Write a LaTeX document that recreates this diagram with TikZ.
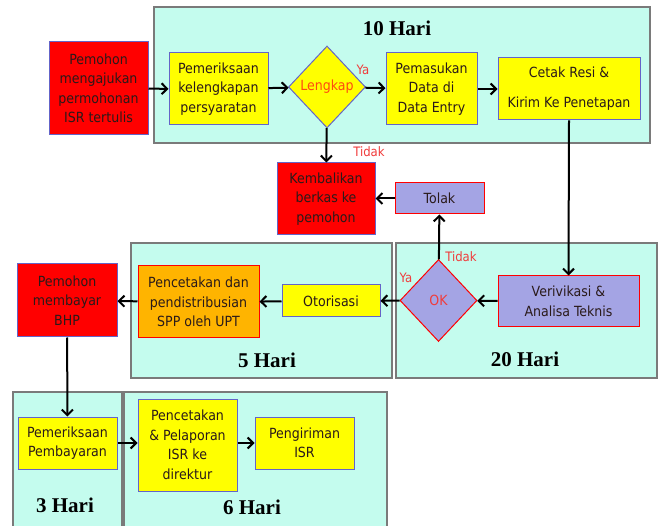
\documentclass[tikz,border=0pt]{standalone}
\usepackage{fontspec}
\setmainfont{DejaVu Sans Condensed}
\newfontfamily\harifont{Liberation Serif}
\usetikzlibrary{shapes.geometric,arrows.meta}
\definecolor{panelcyan}{HTML}{C4FCEE}
\definecolor{panelgray}{HTML}{7A7A7A}
\definecolor{boxyellow}{HTML}{FFFF00}
\definecolor{boxred}{HTML}{FF0000}
\definecolor{boxlilac}{HTML}{A4A4E4}
\definecolor{boxorange}{HTML}{FFB400}
\definecolor{boxblue}{HTML}{6464C8}
\definecolor{boxtext}{HTML}{2A1A1A}
\definecolor{labred}{HTML}{F03C3C}
\definecolor{lengkaptext}{HTML}{FF4A10}

\begin{document}
\begin{tikzpicture}[x=1pt,y=-1pt,
    box/.style={draw=boxblue,line width=1pt,inner sep=0pt,align=center,text=boxtext,
      font=\fontsize{14}{19.5}\selectfont},
    yellowbox/.style={box,fill=boxyellow},
    redbox/.style={box,fill=boxred},
    lilacbox/.style={box,fill=boxlilac,draw=boxred},
    orangebox/.style={box,fill=boxorange,draw=boxred},
    choice/.style={diamond,draw,line width=1pt,inner sep=0pt,minimum width=77pt,
      minimum height=82pt,font=\fontsize{14}{16}\selectfont},
    panel/.style={fill=panelcyan,draw=panelgray,line width=1.2pt},
    hari/.style={font=\harifont\bfseries\fontsize{21}{24}\selectfont},
    lab/.style={text=labred,font=\fontsize{13}{15}\selectfont,inner sep=0pt},
    arr/.style={-{Straight Barb[length=5.5pt,width=11pt,line width=2pt]},line width=2pt}]
    \useasboundingbox (0,0) rectangle (661,526);

    \draw[panel] (154,7) rectangle (650,143);
    \draw[panel] (131,243) rectangle (392,378);
    \draw[panel] (396,243) rectangle (657,378);
    \fill[panelcyan] (13,392) rectangle (122,526);
    \draw[panelgray,line width=1.2pt] (13,526) -- (13,392) -- (122,392) -- (122,526);
    \fill[panelcyan] (124,392) rectangle (387,526);
    \draw[panelgray,line width=1.2pt] (124,526) -- (124,392) -- (387,392) -- (387,526);

    \node[hari] (h10) at (397,28) {10 Hari};
    \node[hari] (h5) at (267,360) {5 Hari};
    \node[hari] (h20) at (525,359) {20 Hari};
    \node[hari] (h3) at (65,505) {3 Hari};
    \node[hari] (h6) at (252,507) {6 Hari};

    \node[redbox,minimum width=99pt,minimum height=93pt] (mohon) at (98.5,88.5)
      {Pemohon\\mengajukan\\permohonan\\ISR tertulis};
    \node[yellowbox,minimum width=99pt,minimum height=72pt] (periksa) at (218.5,89)
      {Pemeriksaan\\kelengkapan\\persyaratan};
    \node[choice,fill=boxyellow,draw=boxblue,text=lengkaptext] (lengkap) at (327,87) {Lengkap};
    \node[yellowbox,minimum width=91pt,minimum height=72pt] (masuk) at (431.5,89)
      {Pemasukan\\Data di\\Data Entry};
    \node[yellowbox,minimum width=142pt,minimum height=62pt,
      font=\fontsize{14}{30}\selectfont] (cetak) at (569,89)
      {Cetak Resi \&\\Kirim Ke Penetapan};
    \node[redbox,minimum width=98pt,minimum height=72pt] (kembali) at (326,199)
      {Kembalikan\\berkas ke\\pemohon};
    \node[lilacbox,minimum width=89pt,minimum height=31pt] (tolak) at (439.5,198.5) {Tolak};
    \node[lilacbox,minimum width=141pt,minimum height=51pt] (verif) at (568.5,301.5)
      {Verivikasi \&\\Analisa Teknis};
    \node[choice,fill=boxlilac,draw=boxred,text=labred] (ok) at (438.5,300.5) {OK};
    \node[yellowbox,minimum width=98pt,minimum height=32pt] (otor) at (331,301) {Otorisasi};
    \node[orangebox,minimum width=121pt,minimum height=72pt] (spp) at (198.5,302)
      {Pencetakan dan\\pendistribusian\\SPP oleh UPT};
    \node[redbox,minimum width=100pt,minimum height=73pt] (bhp) at (67,300.5)
      {Pemohon\\membayar\\BHP};
    \node[yellowbox,minimum width=99pt,minimum height=52pt] (bayar) at (67.5,443)
      {Pemeriksaan\\Pembayaran};
    \node[yellowbox,minimum width=99pt,minimum height=92pt] (lapor) at (187.5,445)
      {Pencetakan\\\& Pelaporan\\ISR ke\\direktur};
    \node[yellowbox,minimum width=99pt,minimum height=52pt] (kirim) at (304.5,443)
      {Pengiriman\\ISR};

    \node[lab] (ya1) at (363,70) {Ya};
    \node[lab] (tidak1) at (369,152) {Tidak};
    \node[lab] (tidak2) at (461,257) {Tidak};
    \node[lab] (ya2) at (406,278) {Ya};

    \draw[arr] (mohon) -- (periksa);
    \draw[arr] (periksa) -- (lengkap);
    \draw[arr] (lengkap) -- (masuk);
    \draw[arr] (masuk) -- (cetak);
    \draw[arr] (lengkap) -- (kembali);
    \draw[arr] (cetak.south) -- (verif.north);
    \draw[arr] (verif) -- (ok);
    \draw[arr] (ok) -- (tolak);
    \draw[arr] (tolak) -- (kembali.east |- tolak);
    \draw[arr] (ok) -- (otor);
    \draw[arr] (otor) -- (spp);
    \draw[arr] (spp) -- (bhp);
    \draw[arr] (bhp) -- (bayar);
    \draw[arr] (bayar) -- (lapor.west |- bayar);
    \draw[arr] (lapor.east |- kirim) -- (kirim);
\end{tikzpicture}
\end{document}
